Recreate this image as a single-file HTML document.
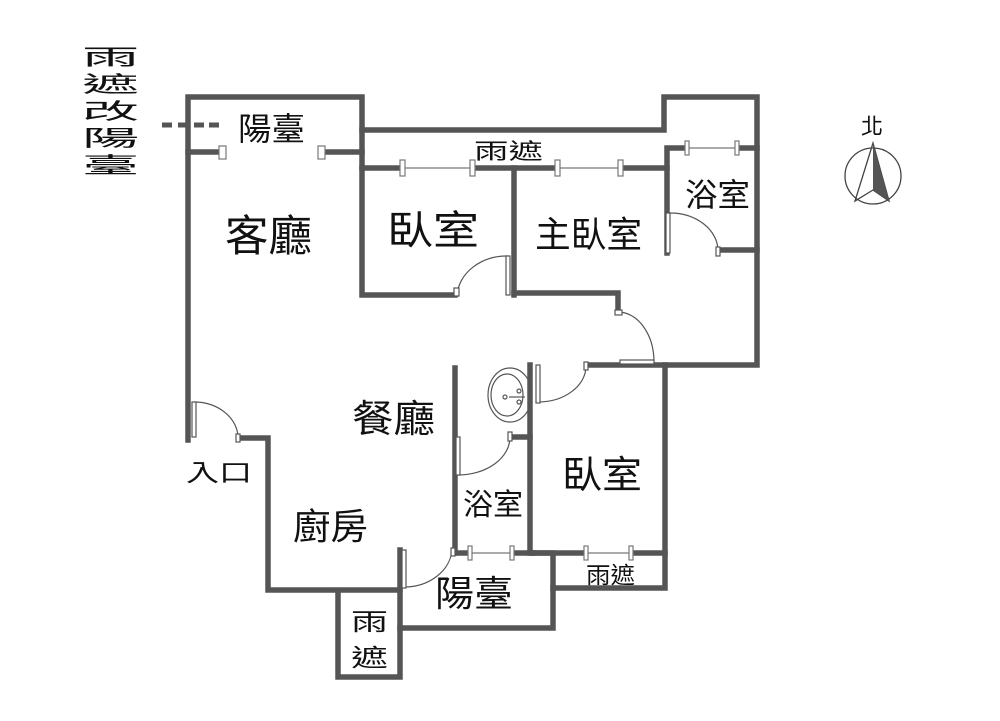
<!DOCTYPE html>
<html><head><meta charset="utf-8"><style>
html,body{margin:0;padding:0;background:#fff;}
svg{display:block;}
text{font-family:"Liberation Sans","Noto Sans CJK TC",sans-serif;fill:#111;}
</style></head><body>
<svg width="1000" height="721" viewBox="0 0 1000 721" xmlns="http://www.w3.org/2000/svg">
<g stroke="#555" stroke-width="5.5" fill="none" stroke-linecap="square">
<polyline points="188,440 188,97 362,97 362,295 455,295"/>
<line x1="188" y1="152" x2="218" y2="152"/>
<line x1="326" y1="152" x2="362" y2="152"/>
<polyline points="362,130 664,130 664,97 757,97 757,365 588,365"/>
<line x1="362" y1="168" x2="400" y2="168"/>
<line x1="474" y1="168" x2="555" y2="168"/>
<line x1="622" y1="168" x2="667" y2="168"/>
<line x1="514" y1="168" x2="514" y2="295"/>
<polyline points="514,293 618,293 618,312"/>
<polyline points="667,253 667,148 684,148"/>
<line x1="740" y1="148" x2="757" y2="148"/>
<line x1="723" y1="250" x2="757" y2="250"/>
<line x1="455" y1="368" x2="455" y2="553"/>
<line x1="530" y1="365" x2="530" y2="553"/>
<line x1="515" y1="437" x2="530" y2="437"/>
<polyline points="242,438 268,438 268,590 400,590"/>
<polyline points="400,550 400,628 553,628 553,553 533,553"/>
<line x1="455" y1="553" x2="468" y2="553"/>
<line x1="514" y1="553" x2="533" y2="553"/>
<polyline points="533,553 585,553"/>
<line x1="633" y1="553" x2="665" y2="553"/>
<polyline points="665,365 665,588 553,588"/>
<polyline points="338,593 338,677 400,677 400,628"/>
</g>
<g stroke="#777" stroke-width="1.2" fill="#fff">
<line x1="400" y1="168" x2="474" y2="168"/>
<line x1="555" y1="168" x2="622" y2="168"/>
<line x1="686" y1="148" x2="738" y2="148"/>
<line x1="470" y1="553" x2="512" y2="553"/>
<line x1="588" y1="553" x2="630" y2="553"/>
<rect x="219" y="146" width="7" height="13"/>
<rect x="318" y="146" width="7" height="13"/>
<rect x="400" y="160" width="5" height="16"/><rect x="470" y="160" width="5" height="16"/>
<rect x="555" y="160" width="5" height="16"/><rect x="618" y="160" width="5" height="16"/>
<rect x="685" y="141" width="4" height="14"/><rect x="735" y="141" width="4" height="14"/>
<rect x="468" y="546" width="4" height="14"/><rect x="510" y="546" width="4" height="14"/>
<rect x="584" y="546" width="4" height="14"/><rect x="629" y="546" width="4" height="14"/>
</g>
<g stroke="#555" stroke-width="1.2" fill="none">
<path d="M457,295 A50,42 0 0 1 508,256"/>
<rect x="506" y="256" width="4" height="39" fill="#fff"/>
<rect x="454" y="288" width="5" height="8" fill="#fff"/>
<path d="M670,213 A48,38 0 0 1 718,250"/>
<rect x="666" y="213" width="4" height="40" fill="#fff"/>
<rect x="716" y="247" width="4" height="9" fill="#fff"/>
<path d="M618,312 A36,50 0 0 1 654,362"/>
<rect x="620" y="360" width="34" height="4" fill="#fff"/>
<rect x="615" y="310" width="7" height="5" fill="#fff"/>
<path d="M538,402 A48,36 0 0 0 586,366"/>
<rect x="536" y="365" width="4" height="38" fill="#fff"/>
<rect x="584" y="362" width="4" height="8" fill="#fff"/>
<path d="M458,475 A52,38 0 0 0 510,437"/>
<rect x="456" y="437" width="4" height="38" fill="#fff"/>
<rect x="508" y="432" width="4" height="9" fill="#fff"/>
<path d="M194,402 A44,36 0 0 1 238,438"/>
<rect x="192" y="402" width="4" height="35" fill="#fff"/>
<rect x="236" y="434" width="4" height="8" fill="#fff"/>
<path d="M404,587 A48,40 0 0 0 452,550"/>
<rect x="402" y="550" width="4" height="38" fill="#fff"/>
<rect x="451" y="548" width="4" height="8" fill="#fff"/>
<ellipse cx="510" cy="395" rx="22" ry="27"/>
<ellipse cx="507" cy="395" rx="16" ry="21"/>
<circle cx="505" cy="397" r="2"/>
<line x1="509" y1="397" x2="525" y2="397"/>
<circle cx="519" cy="391" r="2"/><circle cx="519" cy="402" r="2"/>
</g>
<g stroke="#555" stroke-width="5">
<line x1="162" y1="125" x2="172" y2="125"/><line x1="178" y1="125" x2="188" y2="125"/>
<line x1="194" y1="125" x2="204" y2="125"/><line x1="209" y1="125" x2="219" y2="125"/>
</g>
<g font-size="22" transform="translate(82,0) scale(2.6,1)">
<text x="0" y="65">雨</text><text x="0" y="92">遮</text><text x="0" y="119">改</text><text x="0" y="146">陽</text><text x="0" y="173">臺</text>
</g>
<text x="238" y="140" font-size="32" textLength="67" lengthAdjust="spacingAndGlyphs">陽臺</text>
<text x="225" y="251" font-size="43" textLength="87" lengthAdjust="spacingAndGlyphs">客廳</text>
<text x="387" y="244" font-size="40" textLength="92" lengthAdjust="spacingAndGlyphs">臥室</text>
<text x="535" y="247" font-size="36" textLength="107" lengthAdjust="spacingAndGlyphs">主臥室</text>
<text x="474" y="159" font-size="22" textLength="69" lengthAdjust="spacingAndGlyphs">雨遮</text>
<text x="685" y="206" font-size="32" textLength="65" lengthAdjust="spacingAndGlyphs">浴室</text>
<text x="352" y="432" font-size="38" textLength="83" lengthAdjust="spacingAndGlyphs">餐廳</text>
<text x="186" y="481" font-size="24" textLength="66" lengthAdjust="spacingAndGlyphs">入口</text>
<text x="293" y="539" font-size="36" textLength="75" lengthAdjust="spacingAndGlyphs">廚房</text>
<text x="463" y="515" font-size="30" textLength="60" lengthAdjust="spacingAndGlyphs">浴室</text>
<text x="562" y="488" font-size="38" textLength="80" lengthAdjust="spacingAndGlyphs">臥室</text>
<text x="435" y="606" font-size="36" textLength="78" lengthAdjust="spacingAndGlyphs">陽臺</text>
<text x="586" y="583" font-size="23" textLength="49" lengthAdjust="spacingAndGlyphs">雨遮</text>
<text x="351" y="630" font-size="24" textLength="37" lengthAdjust="spacingAndGlyphs">雨</text>
<text x="351" y="666" font-size="24" textLength="37" lengthAdjust="spacingAndGlyphs">遮</text>
<text x="861" y="134" font-size="22">北</text>
<circle cx="873" cy="176" r="28" fill="none" stroke="#444" stroke-width="1.3"/>
<polygon points="873,143 855,201 873,190 889,201" fill="none" stroke="#444" stroke-width="1.3"/>
<polygon points="873,143 873,190 889,201" fill="#555"/>
</svg>
</body></html>
